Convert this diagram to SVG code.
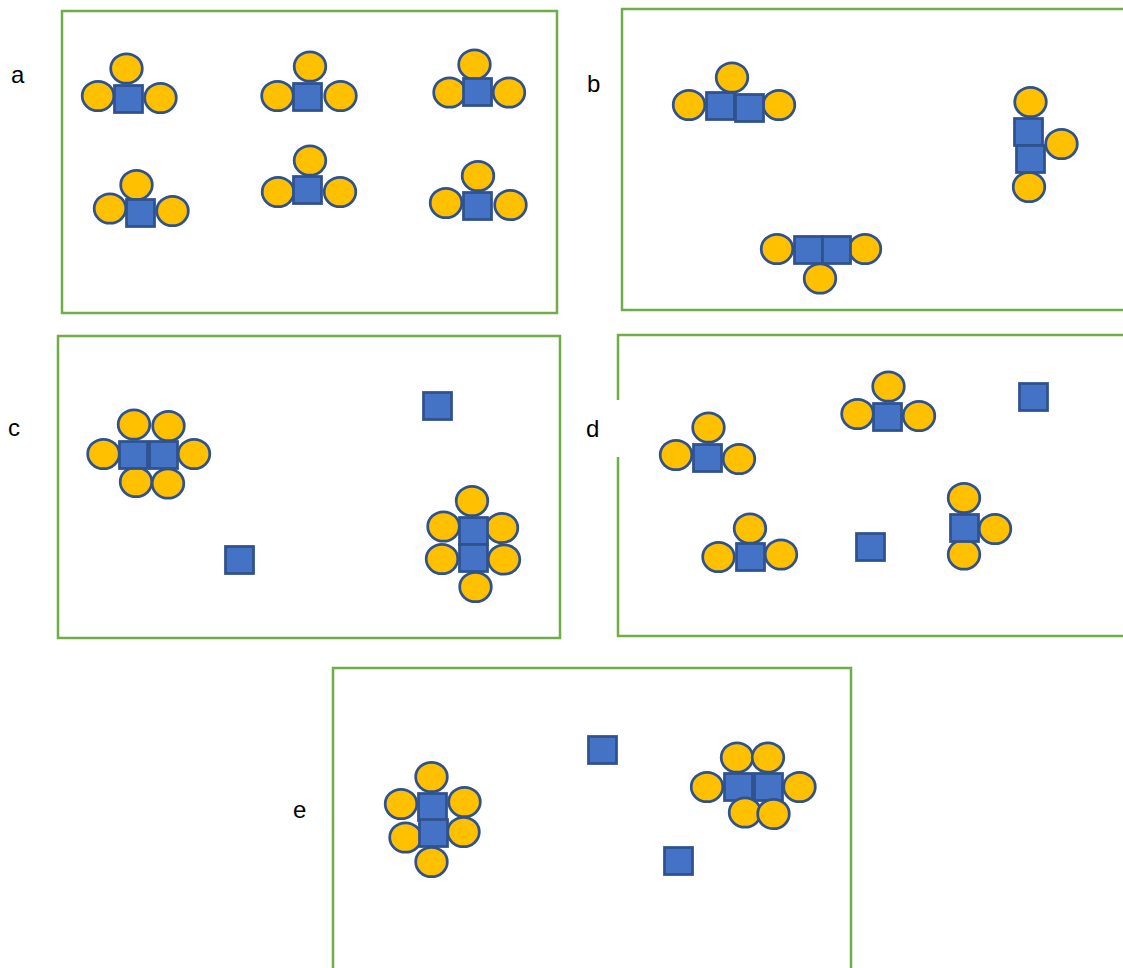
<svg xmlns="http://www.w3.org/2000/svg" width="1123" height="968" viewBox="0 0 1123 968">
  <style>
    .frame { fill: none; stroke: #70AD47; stroke-width: 2.5; }
    .o { fill: #FFC000; stroke: #2F528F; stroke-width: 2.75; }
    .sq { fill: #4472C4; stroke: #2F528F; stroke-width: 2.75; }
    .lbl { font-family: "Liberation Sans", Arial, sans-serif; font-size: 24px; fill: #000; }
  </style>
  <defs>
    <ellipse id="ball" rx="15.8" ry="14.7" class="o"/>
    <rect id="box" x="-0.5" y="-0.5" width="28" height="27" class="sq"/>
  </defs>
  <rect width="1123" height="968" fill="#fff"/>

  <!-- frames -->
  <g id="frames">
    <rect class="frame" x="62" y="11" width="495" height="302"/>
    <rect class="frame" x="622" y="9" width="520" height="301"/>
    <rect class="frame" x="58" y="336" width="502" height="302"/>
    <rect class="frame" x="618" y="335" width="520" height="301"/>
    <rect class="frame" x="333" y="668" width="518" height="320"/>
    <!-- label backing breaks the left edge of frame d -->
    <rect x="606" y="400" width="14" height="57" fill="#fff"/>
  </g>

  <!-- labels -->
  <g id="labels">
    <text class="lbl" x="11" y="83">a</text>
    <text class="lbl" x="587" y="92">b</text>
    <text class="lbl" x="8" y="436">c</text>
    <text class="lbl" x="586" y="437">d</text>
    <text class="lbl" x="293" y="818">e</text>
  </g>

  <!-- panel a -->
  <g id="a1">
    <use href="#ball" x="126.5" y="68.5"/><use href="#ball" x="98" y="96"/><use href="#ball" x="160.5" y="98"/>
    <use href="#box" x="115" y="86"/>
  </g>
  <g id="a2">
    <use href="#ball" x="310" y="66.5"/><use href="#ball" x="277.5" y="96"/><use href="#ball" x="340.5" y="96"/>
    <use href="#box" x="294" y="84"/>
  </g>
  <g id="a3">
    <use href="#ball" x="474.5" y="64.5"/><use href="#ball" x="449.5" y="92.5"/><use href="#ball" x="509" y="92.5"/>
    <use href="#box" x="464" y="79"/>
  </g>
  <g id="a4">
    <use href="#ball" x="136.5" y="185"/><use href="#ball" x="110" y="208.5"/><use href="#ball" x="172.5" y="211"/>
    <use href="#box" x="127" y="200"/>
  </g>
  <g id="a5">
    <use href="#ball" x="310" y="160.5"/><use href="#ball" x="278" y="192"/><use href="#ball" x="340" y="192"/>
    <use href="#box" x="294" y="177"/>
  </g>
  <g id="a6">
    <use href="#ball" x="478" y="176"/><use href="#ball" x="446" y="203"/><use href="#ball" x="510.5" y="205"/>
    <use href="#box" x="464" y="193"/>
  </g>

  <!-- panel b -->
  <g id="b1">
    <use href="#ball" x="732" y="77.5"/><use href="#ball" x="689" y="105"/><use href="#ball" x="779" y="105"/>
    <use href="#box" x="707" y="93"/><use href="#box" x="736" y="95"/>
  </g>
  <g id="b2">
    <use href="#ball" x="1030.5" y="102"/><use href="#ball" x="1029" y="187"/>
    <use href="#box" x="1015" y="119"/><use href="#box" x="1017" y="146"/>
    <use href="#ball" x="1061.5" y="144"/>
  </g>
  <g id="b3">
    <use href="#ball" x="777" y="249"/><use href="#ball" x="865" y="249"/><use href="#ball" x="820" y="278.5"/>
    <use href="#box" x="795" y="237"/><use href="#box" x="823" y="237"/>
  </g>

  <!-- panel c -->
  <g id="c1">
    <use href="#ball" x="134" y="424.5"/><use href="#ball" x="168.5" y="426"/>
    <use href="#ball" x="103.5" y="454"/><use href="#ball" x="194" y="454"/>
    <use href="#ball" x="136" y="482"/><use href="#ball" x="168" y="483.5"/>
    <use href="#box" x="120" y="442"/><use href="#box" x="150" y="442"/>
  </g>
  <g id="c2">
    <use href="#ball" x="472" y="501"/>
    <use href="#ball" x="443.5" y="526.5"/><use href="#ball" x="502" y="528"/>
    <use href="#ball" x="442" y="559"/><use href="#ball" x="504" y="559.5"/>
    <use href="#ball" x="475.5" y="587"/>
    <use href="#box" x="460" y="518"/><use href="#box" x="460" y="545"/>
  </g>
  <g id="c3"><use href="#box" x="424" y="393"/></g>
  <g id="c4"><use href="#box" x="226" y="547"/></g>

  <!-- panel d -->
  <g id="d1">
    <use href="#ball" x="708.5" y="427.5"/><use href="#ball" x="676" y="455"/><use href="#ball" x="739" y="459"/>
    <use href="#box" x="694" y="445"/>
  </g>
  <g id="d2">
    <use href="#ball" x="888.5" y="386.5"/><use href="#ball" x="857.5" y="414"/><use href="#ball" x="919" y="416"/>
    <use href="#box" x="874" y="404"/>
  </g>
  <g id="d3"><use href="#box" x="1020" y="384"/></g>
  <g id="d4">
    <use href="#ball" x="750" y="528.5"/><use href="#ball" x="718.5" y="557"/><use href="#ball" x="781" y="554.5"/>
    <use href="#box" x="737" y="544"/>
  </g>
  <g id="d5"><use href="#box" x="857" y="534"/></g>
  <g id="d6">
    <use href="#ball" x="964" y="498"/><use href="#ball" x="964" y="554.5"/>
    <use href="#box" x="951" y="515"/>
    <use href="#ball" x="995" y="529"/>
  </g>

  <!-- panel e -->
  <g id="e1">
    <use href="#ball" x="431.5" y="777"/>
    <use href="#ball" x="401" y="804"/><use href="#ball" x="464.5" y="802"/>
    <use href="#ball" x="405.5" y="837.5"/><use href="#ball" x="463.5" y="832"/>
    <use href="#ball" x="431.5" y="862"/>
    <use href="#box" x="419" y="794"/><use href="#box" x="420" y="820"/>
  </g>
  <g id="e2"><use href="#box" x="589" y="737"/></g>
  <g id="e3">
    <use href="#ball" x="737" y="757.5"/><use href="#ball" x="768" y="757.5"/>
    <use href="#ball" x="707" y="787"/><use href="#ball" x="799.5" y="787"/>
    <use href="#box" x="725" y="774"/><use href="#box" x="755" y="774"/>
    <use href="#ball" x="745" y="812.5"/><use href="#ball" x="773.5" y="814"/>
  </g>
  <g id="e4"><use href="#box" x="665" y="848"/></g>

  <!-- no connectors in this figure -->
  <g id="connectors"/>
</svg>
